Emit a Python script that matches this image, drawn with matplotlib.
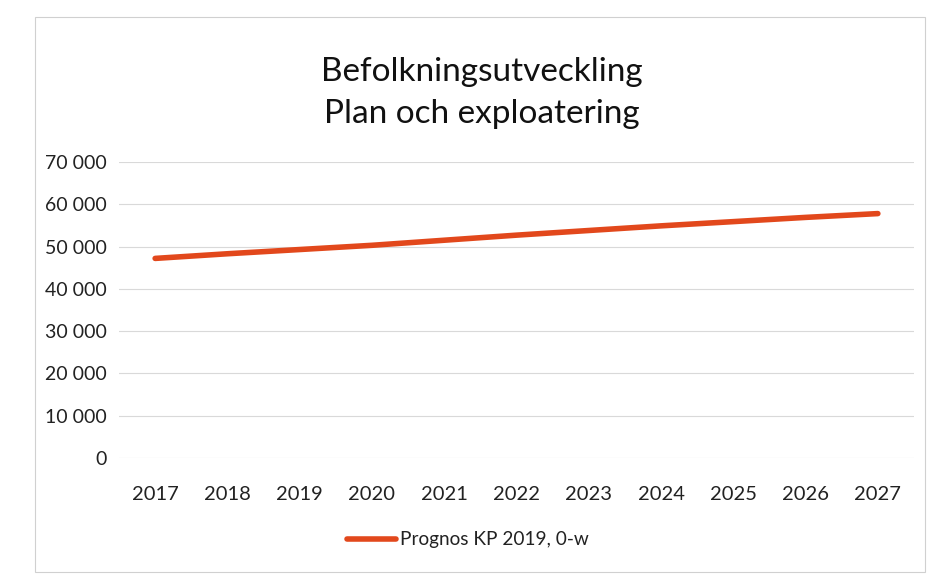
import matplotlib
matplotlib.use("Agg")
import matplotlib.pyplot as plt
from matplotlib.patches import Rectangle

years = ["2017", "2018", "2019", "2020", "2021", "2022", "2023", "2024", "2025", "2026", "2027"]
population = [47200, 48300, 49300, 50300, 51500, 52700, 53800, 54900, 55900, 56900, 57800]
series_name = "Prognos KP 2019, 0-w"
title_lines = ["Befolkningsutveckling", "Plan och exploatering"]
y_ticks = [0, 10000, 20000, 30000, 40000, 50000, 60000, 70000]
y_tick_labels = ["0", "10 000", "20 000", "30 000", "40 000", "50 000", "60 000", "70 000"]

plt.rcParams['font.family'] = ['Lato', 'DejaVu Sans']
W, H = 933, 585
fig = plt.figure(figsize=(W / 100, H / 100), dpi=100)
fig.patch.set_facecolor("white")

# chart border
fig.add_artist(Rectangle((35 / W, 1 - 572 / H), (925 - 35) / W, (572 - 17) / H,
                         transform=fig.transFigure, fill=False,
                         edgecolor="#D0D0D0", linewidth=0.8))

ax = fig.add_axes([119 / W, 1 - 458 / H, (914 - 119) / W, (458 - 162) / H])
x = list(range(len(years)))
line, = ax.plot(x, population, color="#E2481C", linewidth=4.0,
                solid_capstyle="round", label=series_name)

ax.set_xlim(-0.5, len(years) - 0.5)
ax.set_ylim(0, 70000)
ax.set_yticks(y_ticks)
ax.set_yticklabels(y_tick_labels)
ax.set_xticks(x)
ax.set_xticklabels(years)
ax.grid(axis="y", color="#D9D9D9", linewidth=0.8)
ax.set_axisbelow(True)
for s in ax.spines.values():
    s.set_visible(False)
ax.tick_params(axis="y", length=0, labelsize=14, colors="#222222", pad=9)
ax.tick_params(axis="x", length=0, labelsize=14.5, colors="#222222", pad=20)

fig.text(482 / W, 1 - 72 / H, title_lines[0], ha="center", va="center",
         fontsize=24, color="#111111")
fig.text(482 / W, 1 - 114 / H, title_lines[1], ha="center", va="center",
         fontsize=24, color="#111111")

leg = fig.legend(handles=[line], labels=[series_name], loc="center",
                 bbox_to_anchor=(468 / W, 1 - 540 / H), frameon=False,
                 fontsize=13.7, handlelength=2.6, handletextpad=0.2)
for t in leg.get_texts():
    t.set_color("#222222")

fig.savefig("out.png", dpi=100, facecolor="white")
